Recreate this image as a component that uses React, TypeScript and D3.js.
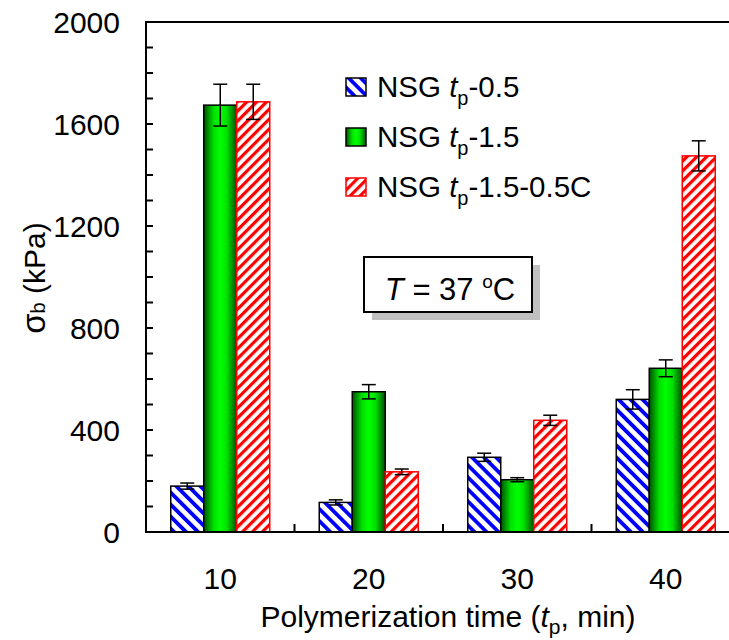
import React from 'react';
import * as d3 from 'd3';

// data
const times = ['10', '20', '30', '40'];
const seriesKeys = ['s05', 's15', 's15c'];
const valS05 = [180, 116, 293, 520];
const errS05 = [12, 10, 16, 38];
const valS15 = [1674, 550, 205, 642];
const errS15 = [82, 28, 8, 33];
const valS15C = [1687, 236, 438, 1475];
const errS15C = [69, 11, 20, 59];
const yTicksMajor = [0, 400, 800, 1200, 1600, 2000];

const W = 729;
const H = 640;
const margin = { top: 22, right: -11, bottom: 108, left: 146 };
const font = "'Liberation Sans', Arial, sans-serif";

const series = [
  { key: 's05', values: valS05, errors: errS05, fill: 'url(#hatchBlue)', stroke: '#000', suffix: '-0.5' },
  { key: 's15', values: valS15, errors: errS15, fill: 'url(#greenGrad)', stroke: '#000', suffix: '-1.5' },
  { key: 's15c', values: valS15C, errors: errS15C, fill: 'url(#hatchRed)', stroke: '#ff0000', suffix: '-1.5-0.5C' },
];

export default function App() {
  const x = d3.scaleBand().domain(times).range([margin.left, W - margin.right]).padding(0);
  const bw = x.bandwidth();
  const xSub = d3.scaleBand().domain(seriesKeys).range([bw / 6, (bw * 5) / 6]).padding(0);
  const y = d3.scaleLinear().domain([0, 2000]).range([H - margin.bottom, margin.top]);
  const minor = d3.range(0, 2001, 100);
  const x0 = margin.left;
  const y0 = y(0);

  return (
    <div style={{ position: 'fixed', left: 0, top: 0 }}>
      <svg width={W} height={H} style={{ display: 'block', background: '#fff' }} fontFamily={font}>
        <defs>
          <pattern id="hatchBlue" patternUnits="userSpaceOnUse" width="8.5" height="8.5" patternTransform="rotate(-45)">
            <rect width="8.5" height="8.5" fill="#fff" />
            <rect width="3.8" height="8.5" fill="#0000ff" />
          </pattern>
          <pattern id="hatchRed" patternUnits="userSpaceOnUse" width="7" height="7" patternTransform="rotate(45)">
            <rect width="7" height="7" fill="#fff" />
            <rect width="3.2" height="7" fill="#ff0000" />
          </pattern>
          <linearGradient id="greenGrad" x1="0" x2="1" y1="0" y2="0">
            <stop offset="0" stopColor="#005000" />
            <stop offset="0.3" stopColor="#00e000" />
            <stop offset="0.5" stopColor="#00ff00" />
            <stop offset="0.7" stopColor="#00e000" />
            <stop offset="1" stopColor="#005000" />
          </linearGradient>
        </defs>

        {/* bars */}
        {series.map(s => (
          <g key={s.key}>
            {times.map((t, i) => (
              <rect
                key={t}
                x={(x(t) as number) + (xSub(s.key) as number)}
                y={y(s.values[i])}
                width={xSub.bandwidth()}
                height={y0 - y(s.values[i])}
                fill={s.fill}
                stroke={s.stroke}
                strokeWidth={1.5}
              />
            ))}
          </g>
        ))}

        {/* error bars */}
        {series.map(s => (
          <g key={s.key + 'e'} stroke="#000" strokeWidth={1.5}>
            {times.map((t, i) => {
              const cx = (x(t) as number) + (xSub(s.key) as number) + xSub.bandwidth() / 2;
              const top = y(s.values[i] + s.errors[i]);
              const bot = y(s.values[i] - s.errors[i]);
              return (
                <g key={t}>
                  <line x1={cx} x2={cx} y1={top} y2={bot} />
                  <line x1={cx - 7} x2={cx + 7} y1={top} y2={top} />
                  <line x1={cx - 7} x2={cx + 7} y1={bot} y2={bot} />
                </g>
              );
            })}
          </g>
        ))}

        {/* axes */}
        <g stroke="#000" strokeWidth={2}>
          <line x1={x0} x2={x0} y1={margin.top - 1} y2={y0 + 1} />
          <line x1={x0} x2={W + 20} y1={y0} y2={y0} />
          <line x1={x0} x2={W + 20} y1={margin.top} y2={margin.top} />
          {minor.map(v => (
            <line key={v} x1={x0} x2={x0 + 7} y1={y(v)} y2={y(v)} />
          ))}
          {times.slice(0, -1).map(t => (
            <line key={t} x1={(x(t) as number) + bw} x2={(x(t) as number) + bw} y1={y0} y2={y0 - 8} />
          ))}
        </g>
        {yTicksMajor.map(v => (
          <text key={v} x={120} y={y(v)} dy="0.36em" textAnchor="end" fontSize={30}>
            {v}
          </text>
        ))}
        {times.map(t => (
          <text key={t} x={(x(t) as number) + bw / 2} y={589} textAnchor="middle" fontSize={30}>
            {t}
          </text>
        ))}

        {/* axis titles */}
        <text x={448} y={627} textAnchor="middle" fontSize={30}>
          Polymerization time (<tspan fontStyle="italic">t</tspan>
          <tspan fontSize={21} dy={7}>p</tspan>
          <tspan dy={-7}>, min)</tspan>
        </text>
        <text transform="translate(45,278) rotate(-90)" textAnchor="middle" fontSize={30}>
          <tspan fontSize={33}>σ</tspan>
          <tspan fontSize={20}>b</tspan>
          <tspan> (kPa)</tspan>
        </text>

        {/* legend */}
        {series.map((s, i) => (
          <g key={s.key + 'l'} transform={`translate(346,${78 + i * 50})`}>
            <rect width={20} height={18} fill={s.fill} stroke={s.stroke} strokeWidth={1.5} />
            <text x={31} y={19} fontSize={29.5}>
              NSG <tspan fontStyle="italic">t</tspan>
              <tspan fontSize={20} dy={8}>p</tspan>
              <tspan dy={-8}>{s.suffix}</tspan>
            </text>
          </g>
        ))}

        {/* temperature note */}
        <rect x={372} y={265} width={168} height={55} fill="#c0c0c0" />
        <rect x={364} y={257} width={168} height={55} fill="#fff" stroke="#000" strokeWidth={2} />
        <text x={450} y={300} textAnchor="middle" fontSize={31}>
          <tspan fontStyle="italic">T</tspan> = 37 <tspan fontSize={19} dy={-12}>o</tspan>
          <tspan dy={12}>C</tspan>
        </text>
      </svg>
    </div>
  );
}
